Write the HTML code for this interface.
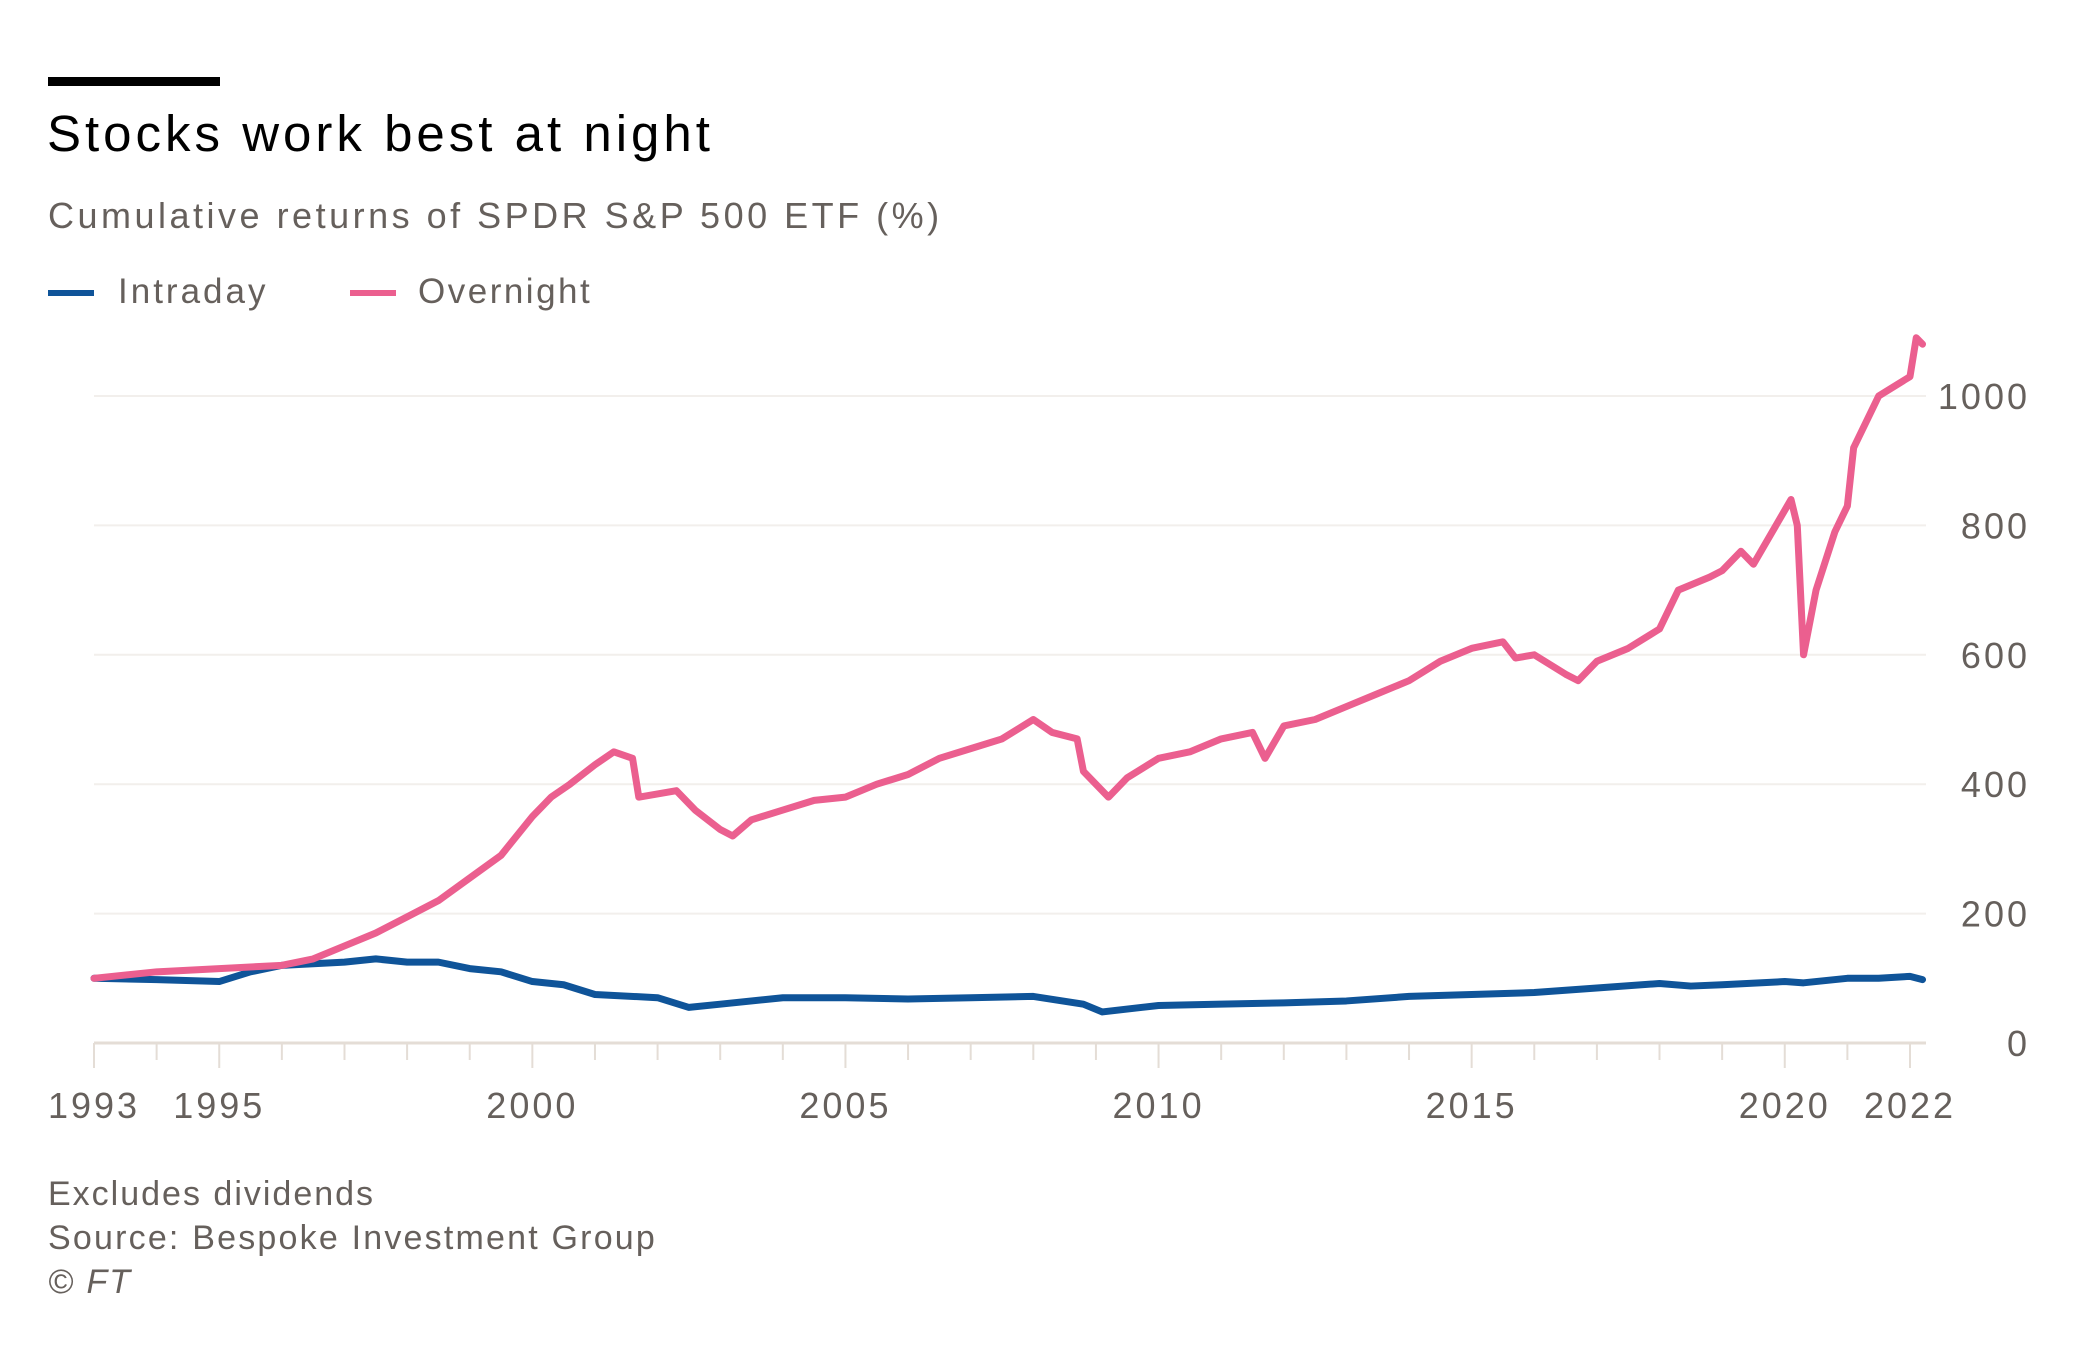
<!DOCTYPE html>
<html><head><meta charset="utf-8"><style>
body{margin:0;background:#fff;width:2085px;height:1346px;overflow:hidden;font-family:"Liberation Sans",sans-serif;}
.t{position:absolute;white-space:nowrap;}
</style></head><body>
<div style="position:absolute;left:48px;top:77px;width:172px;height:9px;background:#000"></div>
<div class="t" style="left:47px;top:104px;font-size:51px;letter-spacing:4px;color:#000">Stocks work best at night</div>
<div class="t" style="left:48px;top:195px;font-size:36px;letter-spacing:3.5px;color:#66605c">Cumulative returns of SPDR S&amp;P 500 ETF (%)</div>
<div>
<div style="position:absolute;left:48px;top:290px;width:46px;height:6px;background:#0f5499"></div>
<div class="t" style="left:118px;top:272px;font-size:35px;letter-spacing:3px;color:#66605c">Intraday</div></div>
<div>
<div style="position:absolute;left:350px;top:290px;width:46px;height:6px;background:#eb5f8f"></div>
<div class="t" style="left:418px;top:272px;font-size:35px;letter-spacing:2.5px;color:#66605c">Overnight</div></div>
<svg id="chart" width="2085" height="1346" style="position:absolute;left:0;top:0"></svg>
<div class="t" style="left:48px;top:1175px;font-size:34px;letter-spacing:2px;color:#66605c">Excludes dividends</div>
<div class="t" style="left:48px;top:1219px;font-size:34px;letter-spacing:2.2px;color:#66605c">Source: Bespoke Investment Group</div>
<div class="t" style="left:48px;top:1263px;font-size:34px;letter-spacing:2px;color:#66605c;font-style:italic">© FT</div>
<script>
const yTicks=[0,200,400,600,800,1000];
const xLabels=[1993,1995,2000,2005,2010,2015,2020,2022];
const overYears=[1993,1994,1995,1996,1996.5,1997,1997.5,1998,1998.5,1999,1999.5,2000,2000.3,2000.6,2001,2001.3,2001.6,2001.7,2002,2002.3,2002.6,2003,2003.2,2003.5,2004,2004.5,2005,2005.5,2006,2006.5,2007,2007.5,2008,2008.3,2008.7,2008.8,2009.2,2009.5,2010,2010.5,2011,2011.5,2011.7,2012,2012.5,2013,2013.5,2014,2014.5,2015,2015.5,2015.7,2016,2016.5,2016.7,2017,2017.5,2018,2018.3,2018.8,2019,2019.3,2019.5,2019.8,2020.1,2020.2,2020.3,2020.5,2020.8,2021,2021.1,2021.5,2022,2022.1,2022.2];
const overVals=[100,110,115,120,130,150,170,195,220,255,290,350,380,400,430,450,440,380,385,390,360,330,320,345,360,375,380,400,415,440,455,470,500,480,470,420,380,410,440,450,470,480,440,490,500,520,540,560,590,610,620,595,600,570,560,590,610,640,700,720,730,760,740,790,840,800,600,700,790,830,920,1000,1030,1090,1080];
const intraYears=[1993,1994,1995,1995.5,1996,1997,1997.5,1998,1998.5,1999,1999.5,2000,2000.5,2001,2002,2002.5,2003,2004,2005,2006,2007,2008,2008.8,2009.1,2010,2011,2012,2013,2014,2015,2016,2017,2018,2018.5,2019,2020,2020.3,2021,2021.5,2022,2022.2];
const intraVals=[100,98,95,110,120,125,130,125,125,115,110,95,90,75,70,55,60,70,70,68,70,72,60,48,58,60,62,65,72,75,78,85,92,88,90,95,93,100,100,103,98];
const svg=document.getElementById('chart');const NS='http://www.w3.org/2000/svg';
const X=y=>94+(y-1993)*(1910-94)/29;
const Y=v=>1043-v*(1043-396)/1000;
function mk(t,a){const e=document.createElementNS(NS,t);for(const k in a)e.setAttribute(k,a[k]);svg.appendChild(e);return e;}
yTicks.forEach(v=>{
 const l=mk('line',{x1:94,x2:1926,y1:Y(v),y2:Y(v),stroke:v===0?'#e4ddd6':'#f2efec','stroke-width':v===0?3:2});
 
 
 const t=mk('text',{x:2030,y:Y(v)+13,'text-anchor':'end','font-size':36,'letter-spacing':3,fill:'#66605c','font-family':'Liberation Sans, sans-serif'});t.textContent=v;
 
 
});
for(let yr=1993;yr<=2022;yr++){
 const major=xLabels.includes(yr);
 const l=mk('line',{x1:X(yr),x2:X(yr),y1:1043,y2:major?1068:1060,stroke:'#e4ddd6','stroke-width':2});
 
 
}
xLabels.forEach(yr=>{
 const t=mk('text',{x:X(yr),y:1118,'text-anchor':'middle','font-size':36,'letter-spacing':3,fill:'#66605c','font-family':'Liberation Sans, sans-serif'});t.textContent=yr;
 
 
});
function line(xs,vs,col,name){
 const p=mk('polyline',{points:xs.map((x,i)=>X(x)+','+Y(vs[i])).join(' '),fill:'none',stroke:col,'stroke-width':7,'stroke-linejoin':'round','stroke-linecap':'round'});
 
 
}
line(intraYears,intraVals,'#0f5499','intraday-line');
line(overYears,overVals,'#eb5f8f','overnight-line');
</script>
</body></html>
